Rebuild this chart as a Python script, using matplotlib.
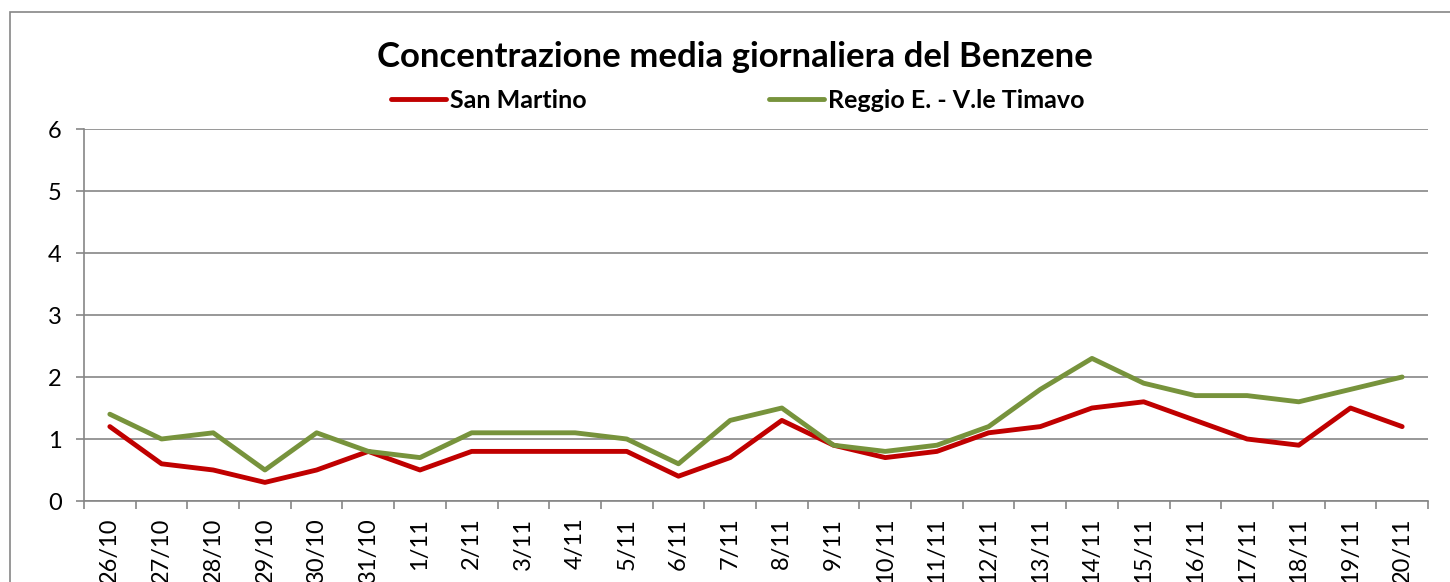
import matplotlib
matplotlib.use("Agg")
from matplotlib import pyplot as plt
from matplotlib.patches import Rectangle

# Dati: concentrazione media giornaliera del benzene
giorni = ["26/10", "27/10", "28/10", "29/10", "30/10", "31/10", "1/11", "2/11",
          "3/11", "4/11", "5/11", "6/11", "7/11", "8/11", "9/11", "10/11",
          "11/11", "12/11", "13/11", "14/11", "15/11", "16/11", "17/11",
          "18/11", "19/11", "20/11"]
san_martino = [1.2, 0.6, 0.5, 0.3, 0.5, 0.8, 0.5, 0.8, 0.8, 0.8, 0.8, 0.4, 0.7,
               1.3, 0.9, 0.7, 0.8, 1.1, 1.2, 1.5, 1.6, 1.3, 1.0, 0.9, 1.5, 1.2]
timavo = [1.4, 1.0, 1.1, 0.5, 1.1, 0.8, 0.7, 1.1, 1.1, 1.1, 1.0, 0.6, 1.3,
          1.5, 0.9, 0.8, 0.9, 1.2, 1.8, 2.3, 1.9, 1.7, 1.7, 1.6, 1.8, 2.0]
y_ticks = [0, 1, 2, 3, 4, 5, 6]

plt.rcParams["font.family"] = ["Lato", "DejaVu Sans"]
grigio = "#868686"

fig = plt.figure(figsize=(14.5, 5.82), dpi=100)
ax = fig.add_axes([84 / 1450, 1 - 501 / 582, 1344 / 1450, 372 / 582])

# bordo dell'area del grafico
fig.patches.append(Rectangle((10 / 1450, -0.1), 1.2, 1 - 12 / 582 + 0.1,
                             transform=fig.transFigure, fill=False,
                             edgecolor=grigio, linewidth=1.2))

x = range(len(giorni))
ax.plot(x, san_martino, color="#C00000", linewidth=3.5, label="San Martino",
        solid_joinstyle="round", solid_capstyle="round")
ax.plot(x, timavo, color="#77933C", linewidth=3.5, label="Reggio E. - V.le Timavo",
        solid_joinstyle="round", solid_capstyle="round")

ax.set_xlim(-0.5, len(giorni) - 0.5)
ax.set_ylim(0, 6)
ax.set_yticks(y_ticks)
ax.grid(axis="y", color=grigio, linewidth=1.2)
ax.set_axisbelow(True)

ax.set_xticks(list(x))
ax.set_xticklabels(giorni, rotation=90, va="top", fontsize=17)
ax.set_xticks([i + 0.5 for i in range(-1, len(giorni))], minor=True)
ax.tick_params(axis="x", which="major", length=0, pad=12)
ax.tick_params(axis="x", which="minor", length=6, color=grigio, width=1.2)
ax.tick_params(axis="y", length=6, color=grigio, width=1.2, pad=10, labelsize=17)

for s in ["top", "right"]:
    ax.spines[s].set_visible(False)
for s in ["left", "bottom"]:
    ax.spines[s].set_color(grigio)
    ax.spines[s].set_linewidth(1.2)

fig.text(735 / 1450, 1 - 57 / 582, "Concentrazione media giornaliera del Benzene",
         ha="center", va="center", fontsize=25, fontweight="bold")
fig.legend(loc="center", bbox_to_anchor=(738 / 1450, 1 - 100 / 582), ncol=2,
           frameon=False, handlelength=2.2, handletextpad=0.15, columnspacing=7.3,
           prop={"weight": "bold", "size": 18})

fig.savefig("out.png", dpi=100)
